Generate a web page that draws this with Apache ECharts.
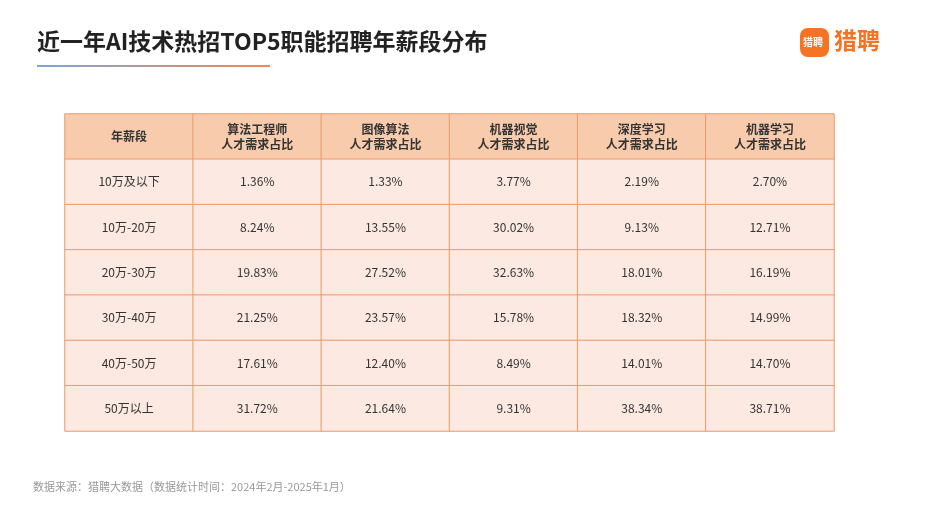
<!DOCTYPE html><html><head><meta charset="utf-8"><script src="https://cdn.jsdelivr.net/npm/echarts@6/dist/echarts.min.js"></script>
<style>html,body{margin:0;background:#fff}#c{width:932px;height:515px}</style></head><body><div id="c"></div><script>
const headers=['年薪段','算法工程师\n人才需求占比','图像算法\n人才需求占比','机器视觉\n人才需求占比','深度学习\n人才需求占比','机器学习\n人才需求占比'];
const salaryBands=['10万及以下','10万-20万','20万-30万','30万-40万','40万-50万','50万以上'];
const algoEngineer=[1.36,8.24,19.83,21.25,17.61,31.72];
const imageAlgo=[1.33,13.55,27.52,23.57,12.40,21.64];
const machineVision=[3.77,30.02,32.63,15.78,8.49,9.31];
const deepLearning=[2.19,9.13,18.01,18.32,14.01,38.34];
const machineLearning=[2.70,12.71,16.19,14.99,14.70,38.71];
const cols=[algoEngineer,imageAlgo,machineVision,deepLearning,machineLearning];
const data=[];
headers.forEach((h,i)=>data.push({value:[i,0,0],label:{formatter:h,fontWeight:'bold',lineHeight:15},itemStyle:{color:'#F8CBAD'}}));
salaryBands.forEach((b,r)=>{
  data.push({value:[0,r+1,0],label:{formatter:b},itemStyle:{color:'#FCE9E1'}});
  cols.forEach((c,i)=>data.push({value:[i+1,r+1,c[r]],label:{formatter:c[r].toFixed(2)+'%'},itemStyle:{color:'#FCE9E1'}}));
});
const ch=echarts.init(document.getElementById('c'));
ch.setOption({
 animation:false,
 grid:{left:65,right:98,top:114,bottom:84},
 xAxis:{type:'category',data:headers.map((_,i)=>i),show:false},
 yAxis:{type:'category',data:[0,1,2,3,4,5,6],inverse:true,show:false},
 series:[{type:'heatmap',data:data,itemStyle:{borderColor:'#EE9A6A',borderWidth:1},
  label:{show:true,color:'#333',fontSize:12,fontFamily:'Noto Sans CJK SC'},emphasis:{disabled:true}}],
 graphic:[
  {type:'text',left:37,top:30,style:{text:'近一年AI技术热招TOP5职能招聘年薪段分布',font:'bold 23px "Noto Sans CJK SC"',fill:'#222'}},
  {type:'rect',shape:{x:37,y:65,width:233,height:2},style:{fill:new echarts.graphic.LinearGradient(0,0,1,0,[{offset:0,color:'#7FA3D8'},{offset:1,color:'#F08A50'}])}},
  {type:'rect',shape:{x:800,y:28,width:29,height:29,r:8},style:{fill:'#F57322'}},
  {type:'text',x:803,y:37,style:{text:'猎聘',font:'bold 10px "Noto Sans CJK SC"',fill:'#fff'}},
  {type:'text',x:834,y:29,style:{text:'猎聘',font:'bold 23px "Noto Sans CJK SC"',fill:'#F57322'}},
  {type:'text',x:33,y:481,style:{text:'数据来源：猎聘大数据（数据统计时间：2024年2月-2025年1月）',font:'11px "Noto Sans CJK SC"',fill:'#999'}}
 ]
});
</script></body></html>
